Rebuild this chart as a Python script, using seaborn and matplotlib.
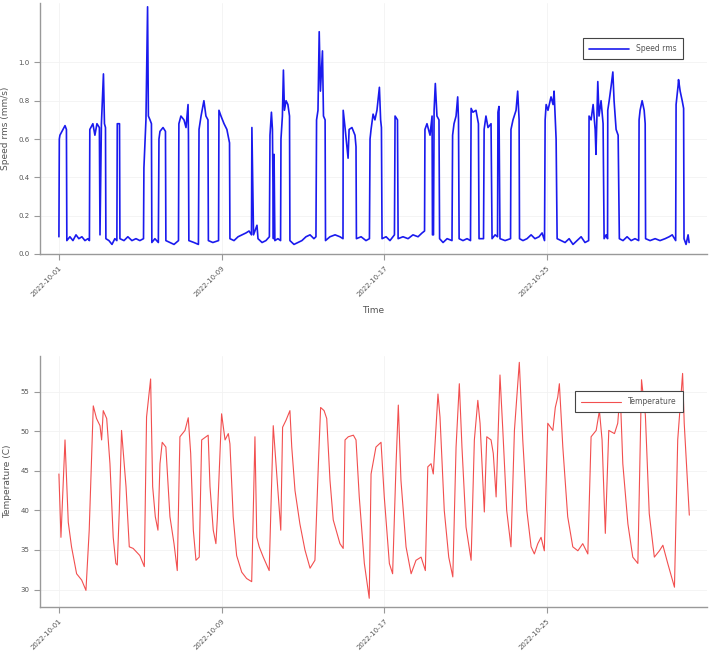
import numpy as np
import pandas as pd
import matplotlib
matplotlib.use("Agg")
import matplotlib.pyplot as plt
import seaborn as sns

# ---------------- data ----------------
start_date = "2022-10-01"
tick_labels = ["2022-10-01", "2022-10-09", "2022-10-17", "2022-10-25"]

speed_days = [
    0.00, 0.02, 0.05, 0.20, 0.30, 0.37, 0.39, 0.54, 0.69, 0.84, 0.98, 1.13, 1.28, 1.43,
    1.50, 1.52, 1.67, 1.77, 1.87, 1.99, 2.02, 2.09, 2.19, 2.24, 2.29, 2.31, 2.46, 2.61,
    2.75, 2.85, 2.87, 2.98, 3.00, 3.20, 3.39, 3.59, 3.79, 3.98, 4.16, 4.18, 4.28, 4.36,
    4.40, 4.48, 4.55, 4.57, 4.72, 4.89, 4.92, 4.97, 5.12, 5.24, 5.26, 5.46, 5.66, 5.88,
    5.90, 6.00, 6.15, 6.25, 6.35, 6.37, 6.39, 6.64, 6.86, 6.89, 6.99, 7.13, 7.23, 7.33,
    7.35, 7.57, 7.85, 7.87, 7.97, 8.12, 8.26, 8.39, 8.41, 8.61, 8.81, 9.00, 9.20, 9.35,
    9.47, 9.49, 9.57, 9.74, 9.79, 9.99, 10.18, 10.35, 10.38, 10.45, 10.50, 10.55, 10.58,
    10.62, 10.77, 10.90, 10.92, 10.99, 11.04, 11.09, 11.17, 11.26, 11.34, 11.36, 11.56,
    11.76, 11.95, 12.15, 12.35, 12.54, 12.64, 12.67, 12.74, 12.80, 12.86, 12.96, 13.01,
    13.09, 13.11, 13.33, 13.58, 13.82, 13.97, 13.98, 14.07, 14.22, 14.27, 14.41, 14.56,
    14.61, 14.63, 14.86, 15.10, 15.27, 15.30, 15.35, 15.45, 15.54, 15.64, 15.76, 15.82,
    15.86, 15.89, 16.09, 16.28, 16.50, 16.53, 16.65, 16.68, 16.92, 17.17, 17.41, 17.66,
    17.86, 17.98, 18.00, 18.10, 18.25, 18.35, 18.37, 18.42, 18.45, 18.51, 18.59, 18.69,
    18.72, 18.89, 19.09, 19.33, 19.36, 19.43, 19.53, 19.61, 19.65, 19.68, 19.87, 20.07,
    20.24, 20.27, 20.36, 20.51, 20.63, 20.66, 20.88, 20.91, 21.00, 21.10, 21.25, 21.30,
    21.45, 21.57, 21.59, 21.64, 21.69, 21.94, 22.21, 22.23, 22.33, 22.48, 22.56, 22.63,
    22.65, 22.82, 23.02, 23.22, 23.41, 23.61, 23.76, 23.88, 23.91, 23.96, 24.05, 24.20,
    24.30, 24.35, 24.40, 24.45, 24.50, 24.69, 24.89, 25.09, 25.28, 25.48, 25.68, 25.87,
    26.05, 26.07, 26.17, 26.27, 26.37, 26.41, 26.50, 26.56, 26.66, 26.76, 26.81, 26.91,
    26.98, 26.99, 27.06, 27.16, 27.24, 27.30, 27.40, 27.50, 27.56, 27.74, 27.94, 28.14,
    28.33, 28.51, 28.53, 28.58, 28.68, 28.78, 28.83, 28.85, 29.07, 29.32, 29.56, 29.81,
    30.01, 30.16, 30.33, 30.35, 30.45, 30.47, 30.55, 30.65, 30.72, 30.74, 30.84, 30.94,
    30.99,
]
speed_rms = [
    0.09, 0.60, 0.62, 0.65, 0.67, 0.65, 0.07, 0.09, 0.07, 0.10, 0.08, 0.09, 0.07, 0.08,
    0.07, 0.65, 0.68, 0.62, 0.68, 0.66, 0.10, 0.68, 0.94, 0.68, 0.66, 0.08, 0.07, 0.05,
    0.08, 0.07, 0.68, 0.68, 0.08, 0.07, 0.09, 0.07, 0.08, 0.07, 0.08, 0.45, 0.70, 1.29,
    0.72, 0.70, 0.68, 0.06, 0.08, 0.06, 0.60, 0.64, 0.66, 0.64, 0.07, 0.06, 0.05, 0.07,
    0.68, 0.72, 0.70, 0.66, 0.78, 0.62, 0.07, 0.06, 0.05, 0.65, 0.72, 0.80, 0.72, 0.70,
    0.07, 0.06, 0.07, 0.75, 0.72, 0.68, 0.65, 0.58, 0.08, 0.07, 0.09, 0.10, 0.11, 0.12,
    0.10, 0.66, 0.10, 0.15, 0.08, 0.06, 0.07, 0.09, 0.62, 0.74, 0.65, 0.08, 0.52,
    0.07, 0.08, 0.07, 0.60, 0.72, 0.96, 0.75, 0.80, 0.78, 0.72, 0.07, 0.05,
    0.06, 0.07, 0.09, 0.10, 0.08, 0.09, 0.70, 0.75, 1.16, 0.85, 1.06, 0.72,
    0.70, 0.07, 0.09, 0.10, 0.09, 0.08, 0.75, 0.66, 0.50, 0.65, 0.66, 0.62,
    0.56, 0.08, 0.09, 0.07, 0.08, 0.60, 0.65, 0.73, 0.70, 0.75, 0.87, 0.70,
    0.66, 0.08, 0.09, 0.07, 0.10, 0.72, 0.70, 0.08, 0.09, 0.08, 0.10, 0.09,
    0.11, 0.12, 0.65, 0.68, 0.62, 0.72, 0.10, 0.10, 0.75, 0.89, 0.72, 0.70,
    0.08, 0.06, 0.08, 0.07, 0.62, 0.68, 0.72, 0.82, 0.70, 0.08, 0.07, 0.08,
    0.07, 0.76, 0.74, 0.75, 0.68, 0.08, 0.08, 0.65, 0.72, 0.66, 0.68, 0.08,
    0.10, 0.09, 0.74, 0.77, 0.08, 0.07, 0.08, 0.65, 0.70, 0.75, 0.85, 0.70,
    0.08, 0.07, 0.08, 0.10, 0.08, 0.09, 0.11, 0.07, 0.70, 0.78, 0.75, 0.82,
    0.78, 0.85, 0.72, 0.60, 0.08, 0.07, 0.06, 0.08, 0.05, 0.07, 0.09, 0.06,
    0.07, 0.72, 0.70, 0.78, 0.65, 0.52, 0.90, 0.72, 0.80, 0.68, 0.08, 0.10,
    0.08, 0.75, 0.80, 0.88, 0.95, 0.80, 0.65, 0.62, 0.08, 0.07, 0.09, 0.07,
    0.08, 0.07, 0.70, 0.75, 0.80, 0.75, 0.68, 0.08, 0.07, 0.08, 0.07, 0.08,
    0.09, 0.10, 0.07, 0.78, 0.88, 0.91, 0.85, 0.80, 0.76, 0.08, 0.05, 0.10,
    0.06,
]

temp_days = [
    0.00, 0.10, 0.30, 0.46, 0.62, 0.87, 1.12, 1.33, 1.49, 1.69, 1.85, 2.02, 2.10, 2.18,
    2.35, 2.51, 2.67, 2.80, 2.87, 2.97, 3.08, 3.30, 3.46, 3.65, 3.98, 4.20, 4.31, 4.51,
    4.61, 4.74, 4.87, 4.97, 5.08, 5.26, 5.46, 5.66, 5.82, 5.95, 6.20, 6.36, 6.48, 6.61,
    6.74, 6.90, 7.02, 7.34, 7.43, 7.59, 7.72, 7.79, 8.00, 8.17, 8.33, 8.41, 8.57, 8.74,
    8.99, 9.23, 9.48, 9.64, 9.73, 9.85, 10.05, 10.34, 10.54, 10.71, 10.91, 11.00, 11.17,
    11.36, 11.45, 11.61, 11.85, 12.10, 12.35, 12.59, 12.76, 12.87, 13.04, 13.17, 13.33,
    13.49, 13.82, 13.98, 14.07, 14.23, 14.48, 14.61, 14.77, 15.02, 15.26, 15.35, 15.59,
    15.84, 16.00, 16.25, 16.41, 16.58, 16.69, 16.82, 17.07, 17.32, 17.56, 17.81, 18.02,
    18.14, 18.30, 18.41, 18.51, 18.64, 18.74, 18.95, 19.17, 19.37, 19.53, 19.69, 19.82,
    20.02, 20.27, 20.43, 20.60, 20.71, 20.92, 21.04, 21.25, 21.36, 21.50, 21.69, 21.83,
    22.02, 22.23, 22.40, 22.64, 22.81, 23.01, 23.22, 23.38, 23.55, 23.71, 23.87, 24.04,
    24.29, 24.41, 24.53, 24.61, 24.78, 25.02, 25.27, 25.52, 25.76, 26.01, 26.17, 26.42,
    26.58, 26.71, 26.87, 27.04, 27.32, 27.48, 27.60, 27.73, 27.98, 28.22, 28.47, 28.65,
    28.84, 29.03, 29.28, 29.53, 29.70, 29.94, 30.27, 30.43, 30.67, 30.75, 31.00,
]
temperature = [
    44.6, 36.6, 48.9, 38.5, 35.4, 32.0, 31.2, 29.9, 37.5, 53.2, 51.6, 50.7, 48.9, 52.6,
    51.6, 45.9, 36.6, 33.3, 33.1, 40.0, 50.1, 43.0, 35.4, 35.2, 34.3, 32.9, 51.8, 56.6,
    43.0, 39.2, 37.5, 45.9, 48.6, 48.0, 39.2, 35.8, 32.4, 49.3, 50.1, 51.7, 47.2, 37.5,
    33.7, 34.1, 48.9, 49.5, 43.0, 37.5, 35.8, 39.0, 52.2, 48.9, 49.7, 48.4, 39.2, 34.3,
    32.2, 31.4, 31.0, 49.3, 36.6, 35.4, 34.1, 32.4, 50.7, 44.6, 37.5, 50.5, 51.4,
    52.6, 48.0, 42.5, 38.3, 35.0, 32.7, 33.7, 45.9, 53.0, 52.6, 51.6, 43.8,
    38.8, 35.8, 35.2, 48.9, 49.3, 49.5, 48.9, 41.7, 33.3, 28.9, 44.6, 48.0,
    48.6, 41.7, 33.3, 32.0, 45.9, 53.3, 43.8, 35.4, 32.0, 33.7, 34.1, 32.4,
    45.5, 45.9, 44.6, 48.9, 54.7, 51.8, 40.0, 34.1, 31.6, 48.0, 56.0, 48.0,
    37.9, 33.7, 48.9, 53.9, 51.0, 39.8, 49.3, 48.9, 47.2, 41.7, 57.1, 50.1,
    40.0, 35.4, 50.1, 58.7, 48.9, 40.0, 35.4, 34.5, 35.8, 36.6, 34.9, 51.0,
    50.1, 53.0, 54.3, 56.0, 48.0, 39.2, 35.4, 34.9, 35.8, 34.5, 49.3, 50.1,
    52.6, 48.9, 37.1, 50.1, 49.7, 51.0, 55.0, 45.9, 38.3, 34.1, 33.3, 56.5,
    52.0, 39.6, 34.1, 34.9, 35.6, 33.3, 30.3, 48.9, 57.3, 51.0, 39.4,
]

speed_ticks = [0.0, 0.2, 0.4, 0.6, 0.8, 1.0]
temp_ticks = [30, 35, 40, 45, 50, 55]

# ---------------- frames ----------------
t0 = pd.Timestamp(start_date)
speed_df = pd.DataFrame({"Time": t0 + pd.to_timedelta(speed_days, unit="D"),
                         "Speed rms": speed_rms})
temp_df = pd.DataFrame({"Time": t0 + pd.to_timedelta(temp_days, unit="D"),
                        "Temperature": temperature})

sns.set_theme(style="ticks")
plt.rcParams["font.family"] = ["DejaVu Sans"]

W, H = 716, 652
fig = plt.figure(figsize=(W / 100, H / 100), dpi=100)
ax1 = fig.add_axes([40 / W, 1 - 254 / H, 667 / W, 251 / H])
ax2 = fig.add_axes([40 / W, 1 - 607 / H, 667 / W, 251 / H])

sns.lineplot(data=speed_df, x="Time", y="Speed rms", ax=ax1, color="#1a1aee",
             linewidth=1.2, label="Speed rms")
sns.lineplot(data=temp_df, x="Time", y="Temperature", ax=ax2, color="#f03030",
             linewidth=0.8, alpha=0.85, label="Temperature")

xmin = t0 + pd.Timedelta(days=-0.93)
xmax = t0 + pd.Timedelta(days=31.87)
tick_pos = pd.to_datetime(tick_labels)

for ax in (ax1, ax2):
    ax.set_xlim(xmin, xmax)
    ax.set_xticks(tick_pos)
    ax.set_xticklabels(tick_labels, rotation=45, ha="right", fontsize=5,
                       color="#555555", rotation_mode="anchor")
    ax.tick_params(axis="both", direction="out", length=4, width=0.8,
                   color="#999999", labelsize=5, labelcolor="#555555")
    ax.grid(True, color="#f2f2f2", linewidth=0.6)
    for s in ("top", "right"):
        ax.spines[s].set_visible(False)
    for s in ("left", "bottom"):
        ax.spines[s].set_color("#999999")
        ax.spines[s].set_linewidth(1.0)
    leg = ax.legend(loc="upper right", bbox_to_anchor=(0.97, 0.875), fontsize=5.5,
                    frameon=True, fancybox=False, handlelength=5.2, borderpad=0.8,
                    handletextpad=1.0)
    leg.get_frame().set_edgecolor("#444444")
    leg.get_frame().set_linewidth(0.8)
    leg.get_frame().set_alpha(1.0)
    for txt in leg.get_texts():
        txt.set_color("#555555")

ax1.set_ylim(0, 1.31)
ax1.set_yticks(speed_ticks)
ax1.set_yticklabels([f"{v:.1f}" for v in speed_ticks])
ax1.set_ylabel("Speed rms (mm/s)", fontsize=6.5, color="#555555", labelpad=6)
ax1.set_xlabel("Time", fontsize=6.5, color="#555555", labelpad=6)

ax2.set_ylim(27.8, 59.5)
ax2.set_yticks(temp_ticks)
ax2.set_yticklabels([str(v) for v in temp_ticks])
ax2.set_ylabel("Temperature (C)", fontsize=6.5, color="#555555", labelpad=6)
ax2.set_xlabel("")

fig.savefig("out.png", dpi=100)
